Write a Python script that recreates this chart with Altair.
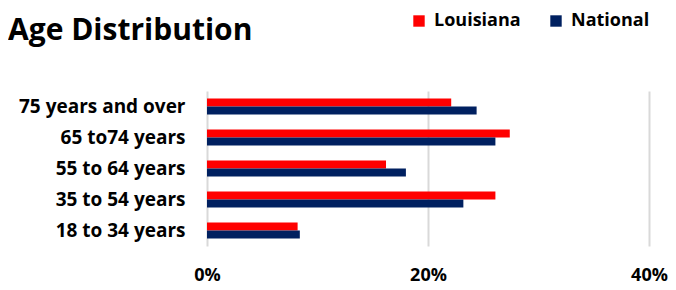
import altair as alt
import pandas as pd

categories = ["75 years and over", "65 to74 years", "55 to 64 years", "35 to 54 years", "18 to 34 years"]
series = ["Louisiana", "National"]
louisiana = [22.1, 27.4, 16.2, 26.1, 8.2]
national = [24.4, 26.1, 18.0, 23.2, 8.4]
colors = ["#FF0000", "#002060"]
x_ticks = [0, 20, 40]

rows = []
for c, lv, nv in zip(categories, louisiana, national):
    rows.append({"age": c, "series": "Louisiana", "value": lv / 100})
    rows.append({"age": c, "series": "National", "value": nv / 100})
df = pd.DataFrame(rows)

FONT = "Open Sans"

chart = alt.Chart(df).mark_bar(size=8).encode(
    y=alt.Y("age:N", sort=categories,
            scale=alt.Scale(paddingInner=0.48, paddingOuter=0.24),
            axis=alt.Axis(title=None, domain=False, ticks=False, grid=False,
                          labelFont=FONT, labelFontSize=19, labelFontWeight="bold",
                          labelColor="#000000", labelPadding=22, labelLimit=300)),
    yOffset=alt.YOffset("series:N", sort=series),
    x=alt.X("value:Q", scale=alt.Scale(domain=[0, 0.4], nice=False),
            axis=alt.Axis(title=None, format="%", values=[v / 100 for v in x_ticks],
                          domain=False, ticks=False, grid=True, gridColor="#d9d9d9",
                          gridWidth=2, labelFont=FONT, labelFontSize=18,
                          labelFontWeight="bold", labelColor="#000000",
                          labelPadding=20, labelFlush=False)),
    color=alt.Color("series:N", sort=series,
                    scale=alt.Scale(domain=series, range=colors),
                    legend=alt.Legend(title=None, orient="none", direction="horizontal",
                                      legendX=203, legendY=-79, symbolType="square",
                                      symbolSize=130, symbolStrokeWidth=0,
                                      labelFont=FONT, labelFontSize=18,
                                      labelFontWeight="bold", labelColor="#000000",
                                      labelOffset=6, columnPadding=26, padding=0)),
).properties(
    width=442, height=155,
    title=alt.TitleParams("Age Distribution", anchor="start", frame="group", font=FONT,
                          fontSize=30, fontWeight="bold", color="#000000", dx=-199, dy=38),
    autosize=alt.AutoSizeParams(type="none"),
    padding={"left": 199, "top": 83, "right": 19, "bottom": 44},
).configure_view(stroke=None)

chart.save("out.html", embed_options={"renderer": "svg", "actions": False})
